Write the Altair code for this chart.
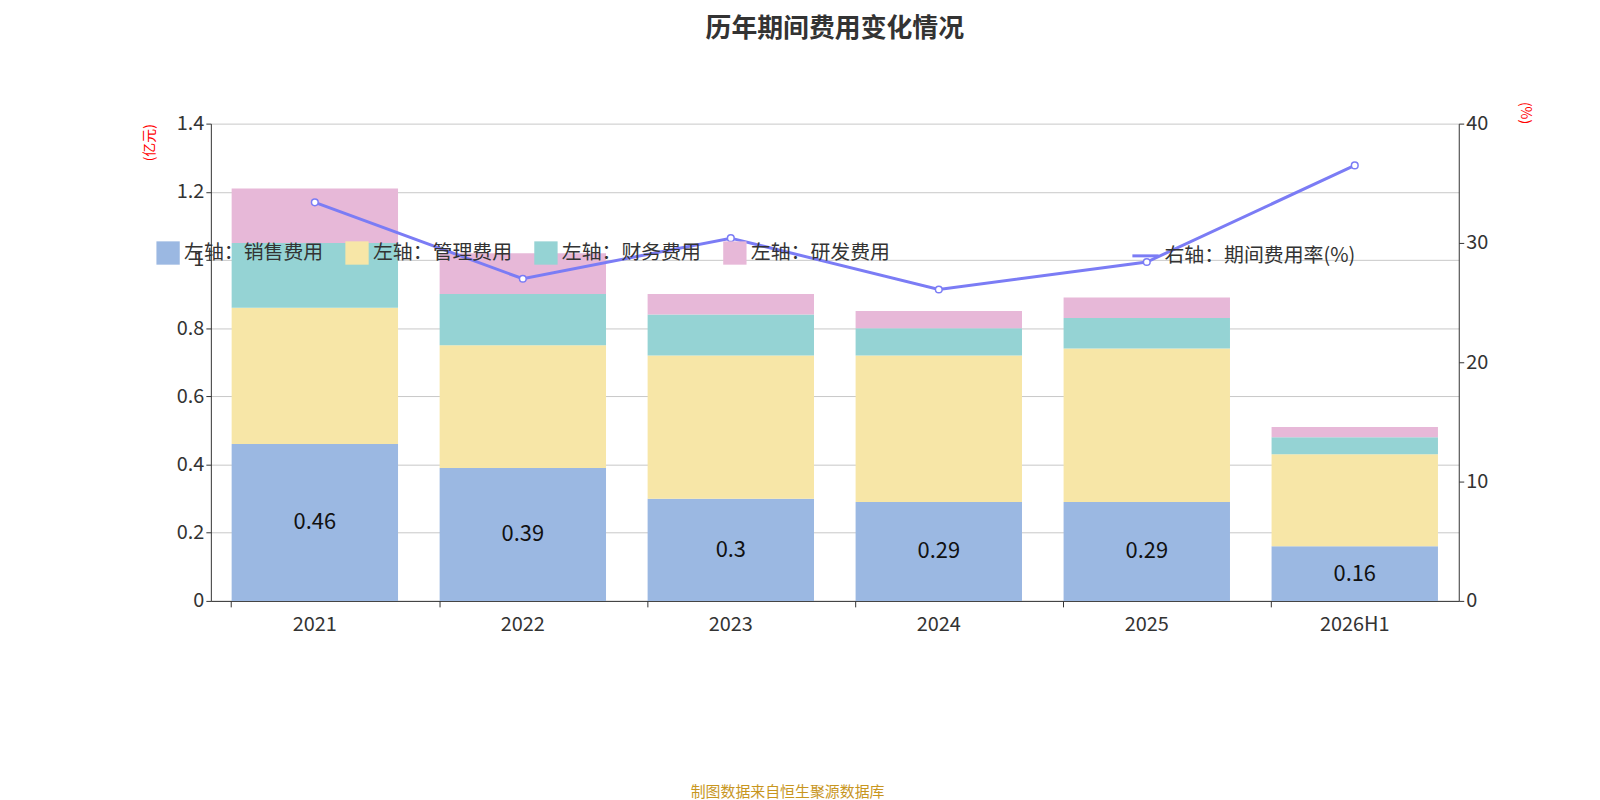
import altair as alt
import pandas as pd

years = ["2021", "2022", "2023", "2024", "2025", "2026H1"]
sales = [0.46, 0.39, 0.30, 0.29, 0.29, 0.16]
admin = [0.40, 0.36, 0.42, 0.43, 0.45, 0.27]
finance = [0.19, 0.15, 0.12, 0.08, 0.09, 0.05]
rnd = [0.16, 0.12, 0.06, 0.05, 0.06, 0.03]
rate = [33.4, 27.0, 30.4, 26.1, 28.4, 36.5]

names = ["左轴：销售费用", "左轴：管理费用", "左轴：财务费用", "左轴：研发费用"]
colors = ["#9bb8e2", "#f7e6a7", "#95d3d4", "#e7b8d8"]

rows = []
for i, y in enumerate(years):
    for k, (n, s) in enumerate(zip(names, [sales, admin, finance, rnd])):
        rows.append({"year": y, "name": n, "v": s[i], "k": k})
bars_df = pd.DataFrame(rows)
sales_df = pd.DataFrame({"year": years, "v": sales, "mid": [s / 2 for s in sales]})
rate_df = pd.DataFrame({"year": years, "rate": rate, "s": "右轴：期间费用率(%)"})

font = "Noto Sans CJK SC"
xenc = alt.X("year:N", sort=years, title=None,
             scale=alt.Scale(paddingInner=0.2, paddingOuter=0.1),
             axis=alt.Axis(labelAngle=0, labelFontSize=20, labelColor="#333", domainColor="#333",
                           tickColor="#333", bandPosition=0, tickSize=6, labelPadding=8))
yscale = alt.Scale(domain=[0, 1.4])

bars = alt.Chart(bars_df).mark_bar().encode(
    x=xenc,
    y=alt.Y("sum(v):Q", scale=yscale, title="(亿元)",
            axis=alt.Axis(values=[0, 0.2, 0.4, 0.6, 0.8, 1, 1.2, 1.4], labelFontSize=20, labelColor="#333",
                          gridColor="#c8c8c8", domainColor="#333", tickColor="#333",
                          titleColor="red", titleFontSize=14, titleFontWeight="normal",
                          titleAnchor="end", titlePadding=20, labelExpr="datum.value")),
    color=alt.Color("name:N", sort=names, scale=alt.Scale(domain=names, range=colors),
                    legend=alt.Legend(orient="none", legendX=-55, legendY=118, direction="horizontal",
                                      title=None, symbolType="square", symbolSize=550, labelFontSize=20,
                                      labelColor="#333", columnPadding=22, symbolStrokeWidth=0,
                                      labelLimit=0)),
    order=alt.Order("k:Q"),
)

labels = alt.Chart(sales_df).mark_text(fontSize=22, color="#111", font=font).encode(
    x=alt.X("year:N", sort=years), y=alt.Y("mid:Q", scale=yscale), text="v:Q")

source = alt.Chart(pd.DataFrame({"t": ["制图数据来自恒生聚源数据库"]})).mark_text(
    fontSize=15, color="#c8961e", font=font).encode(
    x=alt.value(580), y=alt.value(672), text="t:N")

line = alt.Chart(rate_df).mark_line(
    strokeWidth=3, point=alt.OverlayMarkDef(filled=True, fill="white", size=45, strokeWidth=1.5)).encode(
    x=alt.X("year:N", sort=years),
    y=alt.Y("rate:Q", scale=alt.Scale(domain=[0, 40]), title="(%)",
            axis=alt.Axis(orient="right", values=[0, 10, 20, 30, 40], labelFontSize=20, labelColor="#333",
                          grid=False, domainColor="#333", tickColor="#333", titleColor="red",
                          titleFontSize=14, titleFontWeight="normal", titleAnchor="end", titlePadding=30)),
    stroke=alt.Stroke("s:N", scale=alt.Scale(range=["#7b7cf5"]),
                      legend=alt.Legend(orient="none", legendX=925, legendY=118, title=None,
                                        symbolType="stroke", symbolSize=700, labelFontSize=20,
                                        labelColor="#333", symbolStrokeWidth=3, labelLimit=0)),
)

left = alt.layer(bars, labels, source)
chart = alt.layer(left, line).resolve_scale(y="independent", color="independent", stroke="independent").properties(
    width=1255, height=480,
    padding={"left": 135, "top": 5, "right": 60, "bottom": 5},
    title=alt.TitleParams("历年期间费用变化情况", fontSize=26, font=font, color="#333", offset=60),
).configure(font=font).configure_view(stroke=None).configure_legend(
    legendY=480 + 118, orient="none")

chart.save("out.html", embed_options={"renderer": "svg", "actions": False})
